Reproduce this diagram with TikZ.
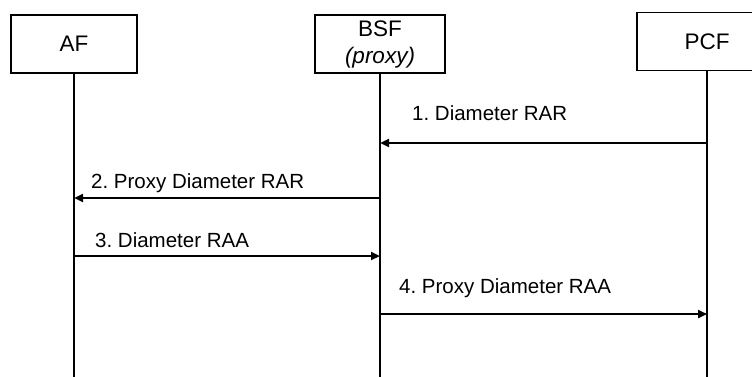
\documentclass[tikz,border=0pt]{standalone}
\usepackage{fontspec}
\setmainfont{Liberation Sans}
\usetikzlibrary{arrows.meta}
\frenchspacing

\begin{document}
\begin{tikzpicture}[
    x=1pt, y=-1pt,
    entity/.style={
        rectangle,
        draw,
        line width=1.3pt,
        align=center,
        inner sep=0pt,
        minimum height=58pt,
        font=\fontsize{22.5}{27}\selectfont
    },
    lifeline/.style={line width=1.3pt},
    msg/.style={-{Triangle[length=9pt,width=8pt]}, line width=2.4pt},
    msglabel/.style={anchor=base west, inner sep=0pt, font=\fontsize{20.5}{24}\selectfont}
]
\useasboundingbox (0,0) rectangle (752,377);
\clip (0,0) rectangle (752,377);

% entities
\node[entity, minimum width=126pt] (af) at (74,44) {AF};
\node[entity, minimum width=130pt] (bsf) at (380,44) {BSF\\\textit{(proxy)}};
\node[entity, minimum width=140pt] (pcf) at (707,41.5) {PCF};

% lifelines
\coordinate (bottom) at (0,377);
\draw[lifeline] (af) -- (af |- bottom);
\draw[lifeline] (bsf) -- (bsf |- bottom);
\draw[lifeline] (pcf) -- (pcf |- bottom);

% messages
\coordinate (m1) at (0,143);
\coordinate (m2) at (0,198);
\coordinate (m3) at (0,256);
\coordinate (m4) at (0,314);

\draw[msg] (pcf |- m1) -- (bsf |- m1);
\draw[msg] (bsf |- m2) -- (af |- m2);
\draw[msg] (af |- m3) -- (bsf |- m3);
\draw[msg] (bsf |- m4) -- (pcf |- m4);

\node[msglabel] (rar) at (412,121) {1. Diameter RAR};
\node[msglabel] (proxyrar) at (91,188.5) {2. Proxy Diameter RAR};
\node[msglabel] (raa) at (95,247) {3. Diameter RAA};
\node[msglabel] (proxyraa) at (399,293.5) {4. Proxy Diameter RAA};

\end{tikzpicture}
\end{document}
